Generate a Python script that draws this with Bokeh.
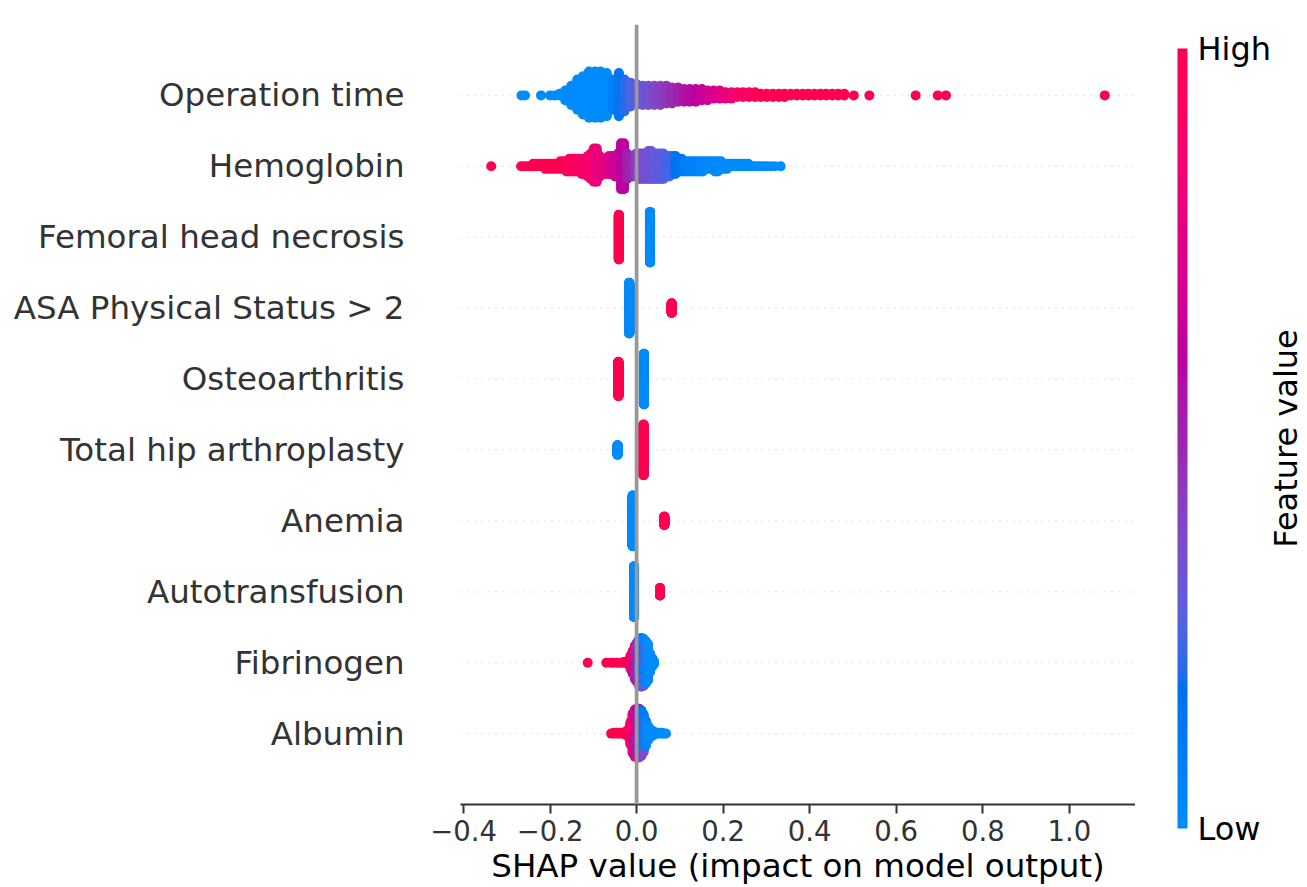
import numpy as np
from bokeh.plotting import figure
from bokeh.layouts import row
from bokeh.models import (ColumnDataSource, FixedTicker, Span, ColorBar,
                          LinearColorMapper, Range1d)
from bokeh.core.properties import value
from bokeh.embed import file_html
from bokeh.resources import INLINE

# ---------------- data ----------------
features = ["Albumin", "Fibrinogen", "Autotransfusion", "Anemia",
            "Total hip arthroplasty", "Osteoarthritis", "ASA Physical Status > 2",
            "Femoral head necrosis", "Hemoglobin", "Operation time"]

x_tick_values = [-0.4, -0.2, 0.0, 0.2, 0.4, 0.6, 0.8, 1.0]
x_tick_labels = ["\u22120.4", "\u22120.2", "0.0", "0.2", "0.4", "0.6", "0.8", "1.0"]

colorbar_labels = {0: "Low", 1: "High"}
colorbar_title = "Feature value"

# Operation time: SHAP value bins, number of samples per bin, normalised feature value
op_shap = [-0.266, -0.258, -0.221, -0.200, -0.189, -0.178, -0.165, -0.151, -0.137, -0.124,
           -0.110, -0.096, -0.083, -0.069, -0.055, -0.041, -0.028, -0.014, 0.000, 0.014,
           0.027, 0.041, 0.055, 0.069, 0.082, 0.096, 0.110, 0.123, 0.137, 0.151,
           0.164, 0.178, 0.192, 0.205, 0.219, 0.233, 0.246, 0.260, 0.274, 0.287,
           0.301, 0.315, 0.329, 0.342, 0.356, 0.370, 0.384, 0.397, 0.411, 0.425,
           0.438, 0.452, 0.466, 0.480, 0.502, 0.538, 0.645, 0.696, 0.715, 1.082]
op_count = [1, 1, 1, 1, 1, 2, 7, 13, 20, 25,
            30, 30, 30, 28, 20, 28, 21, 16, 14, 13,
            13, 13, 13, 12, 11, 10, 9, 9, 9, 8,
            7, 6, 6, 5, 5, 4, 4, 4, 4, 3,
            3, 3, 3, 3, 2, 2, 2, 2, 2, 2,
            2, 2, 2, 2, 1, 1, 1, 1, 1, 1]
op_value = [0, 0, 0, 0, 0, 0, 0, 0, 0, 0,
            0, 0, 0, 0, 0.08, 0.14, 0.20, 0.25, 0.29, 0.32,
            0.35, 0.38, 0.41, 0.45, 0.48, 0.52, 0.56, 0.58, 0.61, 0.64,
            0.68, 0.72, 0.76, 0.80, 0.84, 0.88, 0.91, 0.94, 0.96, 0.98,
            1, 1, 1, 1, 1, 1, 1, 1, 1, 1,
            1, 1, 1, 1, 1, 1, 1, 1, 1, 1]

hb_shap = [-0.336,
           -0.267, -0.260, -0.253, -0.246, -0.239, -0.232, -0.225, -0.218, -0.211, -0.204,
           -0.197, -0.190, -0.183, -0.176, -0.169, -0.162, -0.155, -0.148, -0.141, -0.134,
           -0.127, -0.120, -0.113, -0.106, -0.099, -0.092, -0.085, -0.078, -0.071, -0.064,
           -0.057, -0.050, -0.043, -0.036, -0.029, -0.022, -0.015, -0.008, -0.001, 0.006,
           0.013, 0.020, 0.027, 0.034, 0.041, 0.048, 0.055, 0.062, 0.069, 0.076,
           0.083, 0.090, 0.097, 0.104, 0.111, 0.118, 0.125, 0.132, 0.139, 0.146,
           0.153, 0.160, 0.167, 0.174, 0.181, 0.188, 0.195, 0.202, 0.209, 0.216,
           0.223, 0.230, 0.237, 0.244, 0.251, 0.258, 0.265, 0.272, 0.279, 0.286,
           0.293, 0.300, 0.310, 0.320, 0.333]
hb_count = [1,
            1, 1, 1, 1, 2, 2, 2, 2, 3, 3,
            3, 3, 3, 4, 4, 5, 6, 6, 6, 6,
            7, 7, 9, 11, 14, 14, 9, 7, 7, 8,
            8, 9, 10, 19, 19, 11, 9, 9, 10, 11,
            11, 11, 12, 12, 11, 11, 11, 11, 9, 9,
            8, 8, 6, 6, 5, 5, 5, 5, 5, 5,
            5, 4, 4, 4, 5, 5, 4, 3, 3, 2,
            2, 2, 2, 2, 2, 2, 1, 1, 1, 1,
            1, 1, 1, 1, 1]
hb_value = [1,
            1, 1, 1, 1, 1, 1, 1, 1, 1, 1,
            1, 1, 1, 1, 1, 1, 0.95, 0.95, 0.95, 0.95,
            0.88, 0.88, 0.88, 0.88, 0.88, 0.80, 0.80, 0.80, 0.80, 0.72,
            0.70, 0.68, 0.66, 0.60, 0.60, 0.52, 0.50, 0.48, 0.42, 0.40,
            0.38, 0.35, 0.34, 0.33, 0.30, 0.30, 0.29, 0.28, 0.24, 0.23,
            0.22, 0.16, 0.15, 0.14, 0.08, 0.08, 0.07, 0.07, 0.06, 0.03,
            0.03, 0.03, 0.02, 0.02, 0.02, 0.02, 0, 0, 0, 0,
            0, 0, 0, 0, 0, 0, 0, 0, 0, 0,
            0, 0, 0, 0, 0]

fh_shap = [-0.041, 0.031]
fh_count = [232, 263]
fh_value = [1, 0]

asa_shap = [-0.017, 0.081]
asa_count = [416, 79]
asa_value = [0, 1]

oa_shap = [-0.042, 0.017]
oa_count = [200, 295]
oa_value = [1, 0]

tha_shap = [-0.044, 0.016]
tha_count = [79, 416]
tha_value = [0, 1]

an_shap = [-0.009, 0.064]
an_count = [423, 72]
an_value = [0, 1]

at_shap = [-0.006, 0.054]
at_count = [430, 65]
at_value = [0, 1]

fib_shap = [-0.113, -0.070, -0.060, -0.054, -0.046, -0.040, -0.034, -0.029, -0.024, -0.019,
            -0.014, -0.009, -0.009, -0.004, -0.004, -0.004, 0.001, 0.001, 0.001,
            0.006, 0.006, 0.006, 0.011, 0.011, 0.011, 0.016, 0.016, 0.016,
            0.021, 0.021, 0.026, 0.026, 0.031, 0.036, 0.040]
fib_count = [1, 1, 1, 1, 1, 1, 1, 2, 2, 6,
             18, 20, 10, 24, 14, 6, 18, 18, 16,
             16, 22, 24, 12, 24, 28, 6, 22, 34,
             14, 42, 8, 40, 25, 12, 5]
fib_value = [1, 1, 1, 1, 1, 1, 1, 1, 1, 1,
             0.95, 0.90, 0.60, 0.85, 0.55, 0.30, 0.80, 0.50, 0.30,
             0.75, 0.40, 0.15, 0.60, 0.35, 0.10, 0.60, 0.30, 0.05,
             0.30, 0.03, 0.25, 0.0, 0.0, 0.0, 0.0]

alb_shap = [-0.059, -0.052, -0.046, -0.040, -0.034, -0.029, -0.024, -0.019, -0.014,
            -0.009, -0.009, -0.004, -0.004, -0.004, 0.001, 0.001, 0.001,
            0.006, 0.006, 0.006, 0.011, 0.011, 0.011, 0.016, 0.016, 0.021, 0.021,
            0.026, 0.031, 0.036, 0.041, 0.046, 0.052, 0.058, 0.063, 0.068]
alb_count = [1, 2, 2, 2, 2, 2, 6, 10, 30,
             36, 16, 30, 22, 10, 20, 26, 18,
             12, 28, 24, 6, 24, 30, 14, 36, 8, 26,
             20, 12, 8, 4, 2, 2, 2, 1, 1]
alb_value = [1, 1, 1, 1, 1, 1, 1, 1, 0.95,
             0.90, 0.70, 0.85, 0.65, 0.45, 0.80, 0.60, 0.40,
             0.75, 0.55, 0.35, 0.60, 0.40, 0.15, 0.35, 0.10, 0.30, 0.05,
             0, 0, 0, 0, 0, 0, 0, 0, 0]

rows = [(alb_shap, alb_count, alb_value), (fib_shap, fib_count, fib_value),
        (at_shap, at_count, at_value), (an_shap, an_count, an_value),
        (tha_shap, tha_count, tha_value), (oa_shap, oa_count, oa_value),
        (asa_shap, asa_count, asa_value), (fh_shap, fh_count, fh_value),
        (hb_shap, hb_count, hb_value), (op_shap, op_count, op_value)]

# ---------------- SHAP red-blue colormap (LCh interpolation) ----------------
def lch_to_hex(L, C, h):
    a, b = C * np.cos(h), C * np.sin(h)
    fy = (L + 16) / 116.0
    fx, fz = fy + a / 500.0, fy - b / 200.0

    def finv(t):
        return t ** 3 if t > 6 / 29 else 3 * (6 / 29) ** 2 * (t - 4 / 29)
    X, Y, Z = 0.95047 * finv(fx), finv(fy), 1.08883 * finv(fz)
    rgb = [3.2406 * X - 1.5372 * Y - 0.4986 * Z,
           -0.9689 * X + 1.8758 * Y + 0.0415 * Z,
           0.0557 * X - 0.2040 * Y + 1.0570 * Z]
    out = []
    for c in rgb:
        c = min(max(c, 0.0), 1.0)
        c = 12.92 * c if c <= 0.0031308 else 1.055 * c ** (1 / 2.4) - 0.055
        out.append(int(round(min(max(c, 0), 1) * 255)))
    return "#%02x%02x%02x" % tuple(out)


palette = []
for t in np.linspace(0, 1, 256):
    L = 54 + (40 - 54) * 2 * t if t < 0.5 else 40 + (54 - 40) * (2 * t - 1)
    C = 70 + 20 * t
    h = 4.6588 + (0.35470565 + 2 * np.pi - 4.6588) * t
    palette.append(lch_to_hex(L, C, h))

# ---------------- beeswarm layout (as in shap's summary plot) ----------------
def swarm(pos, shap, count, fval):
    groups = {}
    for x, n, f in zip(shap, count, fval):
        groups.setdefault(x, []).append((n, f))
    xs, ys, fs = [], [], []
    for x, subs in groups.items():
        pts = []
        for n, f in subs:
            pts += [((k + 0.5) / n, f) for k in range(n)]
        pts.sort(key=lambda q: q[0])
        for layer, (_, f) in enumerate(pts):
            xs.append(x)
            ys.append(np.ceil(layer / 2) * ((layer % 2) * 2 - 1))
            fs.append(f)
    ys = np.array(ys, dtype=float)
    ys *= 0.9 * 0.4 / np.max(ys + 1)
    return xs, list(pos + ys), fs


px, py, pc = [], [], []
for pos, (s, n, f) in enumerate(rows):
    xs, ys, fs = swarm(pos, s, n, f)
    px += xs
    py += ys
    pc += [palette[int(round(v * 255))] for v in fs]

src = ColumnDataSource(dict(x=px, y=py, c=pc))

# ---------------- main figure ----------------
FONT = "DejaVu Sans"
p = figure(frame_width=675, frame_height=780,
           x_range=Range1d(-0.407, 1.153), y_range=Range1d(-1, 10),
           min_border_left=460, min_border_top=24, min_border_bottom=83,
           min_border_right=0, output_backend="svg", toolbar_location=None)
p.outline_line_color = None
p.grid.visible = False
p.background_fill_color = "white"
p.border_fill_color = "white"

for i in range(len(features)):
    p.add_layout(Span(location=i, dimension="width", line_color="#cccccc",
                      line_width=1.25, line_dash="1 6", level="underlay"))

p.scatter("x", "y", source=src, size=10, fill_color="c", line_color=None)

p.add_layout(Span(location=0, dimension="height", line_color="#999999",
                  line_width=3.75, level="overlay"))

# x axis
p.xaxis.ticker = FixedTicker(ticks=x_tick_values)
p.xaxis.major_label_overrides = dict(zip(x_tick_values, x_tick_labels))
p.xaxis.major_label_text_font = FONT
p.xaxis.major_label_text_font_size = "27.5px"
p.xaxis.major_label_text_color = "#333333"
p.xaxis.axis_line_color = "#333333"
p.xaxis.axis_line_width = 2
p.xaxis.major_tick_line_color = "#333333"
p.xaxis.major_tick_line_width = 2
p.xaxis.major_tick_out = 9
p.xaxis.major_tick_in = 0
p.xaxis.minor_tick_line_color = None
p.xaxis.major_label_standoff = 6
p.xaxis.axis_label = "SHAP value (impact on model output)"
p.xaxis.axis_label_text_font = FONT
p.xaxis.axis_label_text_font_size = "32.5px"
p.xaxis.axis_label_text_font_style = "normal"
p.xaxis.axis_label_text_color = "#000000"
p.xaxis.axis_label_standoff = 3

# y axis
p.yaxis.ticker = FixedTicker(ticks=list(range(len(features))))
p.yaxis.major_label_overrides = {i: name for i, name in enumerate(features)}
p.yaxis.major_label_text_font = FONT
p.yaxis.major_label_text_font_size = "32.5px"
p.yaxis.major_label_text_color = "#333333"
p.yaxis.axis_line_color = None
p.yaxis.major_tick_line_color = None
p.yaxis.minor_tick_line_color = None
p.yaxis.major_tick_out = 0
p.yaxis.major_tick_in = 0
p.yaxis.major_label_standoff = 56

# ---------------- right strip: colour bar and its rotated caption ----------------
# no title panel, frame covers the whole strip; y range aligned with the main plot's rows
cap = figure(title=None, frame_width=172, frame_height=887, x_range=Range1d(0, 172),
             y_range=Range1d(-1 - 83 / 70.91, 10 + 24 / 70.91),
             min_border_left=0, min_border_right=0, min_border_top=0,
             min_border_bottom=0, x_axis_location=None, y_axis_location=None,
             output_backend="svg", toolbar_location=None)
cap.outline_line_color = None
cap.grid.visible = False
cap.background_fill_color = "white"
cap.border_fill_color = "white"

mapper = LinearColorMapper(palette=palette, low=0, high=1)
cb = ColorBar(color_mapper=mapper, ticker=FixedTicker(ticks=list(colorbar_labels)),
              major_label_overrides=colorbar_labels,
              width=10, height=780, location=(42, 83), padding=0, margin=0,
              major_tick_line_color=None, minor_tick_line_color=None,
              bar_line_color=None, border_line_color=None,
              background_fill_alpha=0, label_standoff=10,
              major_label_text_font=FONT, major_label_text_font_size="32px",
              major_label_text_color="#000000")
cap.add_layout(cb)

cap.text(x=[150], y=[4.5], text=[colorbar_title], angle=np.pi / 2,
         text_align="center", text_baseline="middle",
         text_font=value(FONT), text_font_size="32px", text_color="#000000")

page = row(p, cap, spacing=0)
open("out.html", "w").write(file_html(page, INLINE))
